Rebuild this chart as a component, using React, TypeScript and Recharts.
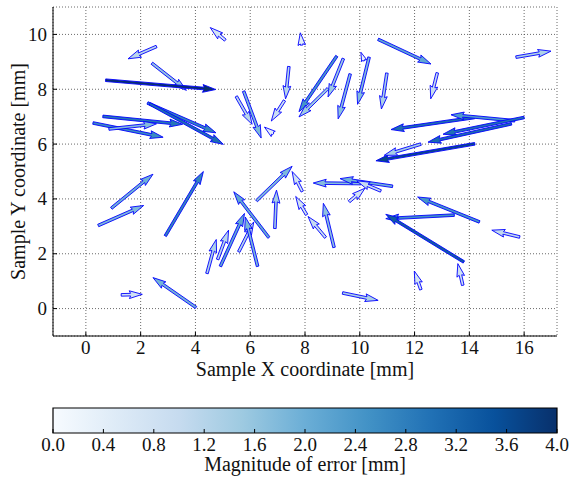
import React from 'react';
import {
  ComposedChart,
  Scatter,
  XAxis,
  YAxis,
  CartesianGrid,
  ReferenceLine,
  ReferenceArea,
  Label
} from 'recharts';

// sample positions (arrow tails) and error vectors, in mm
const X_TAIL = [
  2.58, 2.41, 0.72, 2.25, 2.33, 0.62, 0.26, 0.84, 5.09, 7.88,
  7.41, 7.25, 5.49, 5.76, 6.84, 9.16, 9.40, 8.84, 9.65, 10.16,
  10.34, 10.99, 10.67, 12.83, 15.70, 14.19, 15.66, 16.00, 15.54, 14.20,
  12.23, 0.93, 0.45, 2.90, 4.02, 1.29, 4.42, 4.81, 4.91, 5.58,
  6.27, 6.68, 6.23, 6.90, 7.90, 8.06, 8.75, 9.06, 9.61, 10.04,
  11.20, 10.77, 9.37, 12.23, 13.76, 14.37, 13.45, 13.80, 15.84
];
const Y_TAIL = [
  9.56, 8.95, 8.33, 7.50, 7.47, 7.01, 6.77, 6.55, 9.79, 9.61,
  8.83, 7.59, 7.74, 7.93, 6.37, 9.21, 9.12, 8.03, 8.56, 9.04,
  9.17, 8.59, 9.82, 8.60, 9.17, 6.97, 6.85, 6.97, 6.74, 6.01,
  6.00, 3.66, 3.03, 2.65, 0.04, 0.50, 1.28, 1.79, 1.54, 2.07,
  1.54, 2.59, 3.93, 2.92, 4.27, 3.42, 2.59, 2.23, 3.90, 4.56,
  4.46, 4.29, 0.57, 0.69, 0.85, 3.16, 3.41, 1.70, 2.61
];
const U_ERR = [
  -1.04, 1.26, 4.02, 2.50, 2.69, 2.91, 2.56, 1.74, -0.55, -0.05,
  -0.12, -0.48, 0.58, 0.64, -0.32, -1.38, -0.56, -1.06, -0.44, -0.12,
  -0.42, -0.20, 1.93, -0.24, 1.28, -3.05, -2.33, -2.96, -3.05, -3.61,
  -1.34, 1.52, 1.66, 1.39, -1.57, 0.77, 0.34, 0.40, 0.88, 0.55,
  -0.45, -1.28, 1.30, 0.06, -0.37, -0.40, -0.64, -0.39, 0.58, -1.74,
  -1.92, -0.88, 1.30, -0.24, -0.18, -2.26, -2.50, -2.85, -1.02
];
const V_ERR = [
  -0.45, -0.99, -0.34, -1.09, -1.48, -0.29, -0.52, 0.19, 0.46, 0.45,
  -1.18, -0.75, -1.02, -1.71, 0.25, -2.03, -1.40, -1.04, -1.64, 0.31,
  -1.72, -1.31, -0.90, -0.95, 0.22, -0.44, 0.22, -0.61, -0.67, -0.62,
  -0.41, 1.24, 0.73, 2.35, 1.09, 0.02, 1.24, 1.07, 1.93, 1.09,
  1.80, 1.67, 1.26, 1.40, 0.73, 0.67, 0.77, 1.61, 0.49, 0.02,
  0.28, 0.37, -0.27, 0.68, 0.79, 0.91, -0.13, 1.74, 0.25
];

const X_TICKS = [0, 2, 4, 6, 8, 10, 12, 14, 16];
const Y_TICKS = [0, 2, 4, 6, 8, 10];
const CBAR_TICKS = [0.0, 0.4, 0.8, 1.2, 1.6, 2.0, 2.4, 2.8, 3.2, 3.6, 4.0];
const MAX_ERR = 4.0;

// matplotlib "Blues"
const BLUES = ['#f7fbff', '#deebf7', '#c6dbef', '#9ecae1', '#6baed6', '#4292c6', '#2171b5', '#08519c', '#08306b'];

const FONT = '"Liberation Serif", "DejaVu Serif", serif';
const INK = '#111';
const TICK_FS = 19;
const TITLE_FS = 20;
const SHAFT = 2.6; // px, quiver shaft width

const hexToRgb = (h: string) => [1, 3, 5].map((i) => parseInt(h.slice(i, i + 2), 16));

const blues = (t: number) => {
  const v = Math.max(0, Math.min(1, t)) * (BLUES.length - 1);
  const i = Math.min(Math.floor(v), BLUES.length - 2);
  const f = v - i;
  const a = hexToRgb(BLUES[i]);
  const b = hexToRgb(BLUES[i + 1]);
  const c = a.map((ch, k) => Math.round(ch + (b[k] - ch) * f));
  return `rgb(${c[0]},${c[1]},${c[2]})`;
};

const arrows = X_TAIL.map((x, i) => ({
  x,
  y: Y_TAIL[i],
  u: U_ERR[i],
  v: V_ERR[i],
  mag: Math.hypot(U_ERR[i], V_ERR[i])
}));

// colorbar needs something to hang its axis on
const cbarData = CBAR_TICKS.map((v) => ({ v, level: 0.5 }));

// same polygon as matplotlib's quiver arrow (headwidth 3, headlength 5, headaxislength 4.5)
const arrowPoints = (x1: number, y1: number, x2: number, y2: number) => {
  const dx = x2 - x1;
  const dy = y2 - y1;
  const L = Math.hypot(dx, dy) || 0.001;
  const c = dx / L;
  const s = dy / L;
  const w = SHAFT;
  let pts: number[][];
  if (L >= 5 * w) {
    pts = [
      [0, 0.5 * w], [L - 4.5 * w, 0.5 * w], [L - 5 * w, 1.5 * w], [L, 0],
      [L - 5 * w, -1.5 * w], [L - 4.5 * w, -0.5 * w], [0, -0.5 * w]
    ];
  } else {
    const k = (L / (5 * w)) * w;
    pts = [[0, 0.5], [0.5, 0.5], [0, 1.5], [5, 0], [0, -1.5], [0.5, -0.5], [0, -0.5]]
      .map(([a, b]) => [a * k, b * k]);
  }
  return pts
    .map(([a, b]) => `${(x1 + a * c - b * s).toFixed(2)},${(y1 + a * s + b * c).toFixed(2)}`)
    .join(' ');
};

const makeArrowShape = (fill: string) => (props: any) => {
  const { x1, y1, x2, y2 } = props;
  if ([x1, y1, x2, y2].some((n) => typeof n !== 'number' || isNaN(n))) return <g />;
  return (
    <polygon
      points={arrowPoints(x1, y1, x2, y2)}
      fill={fill}
      stroke="#0000ff"
      strokeWidth={0.9}
      strokeLinejoin="miter"
    />
  );
};

const BottomTick = (props: any) => {
  const { x, y, payload, tickFormatter } = props;
  const txt = tickFormatter ? tickFormatter(payload.value) : payload.value;
  return (
    <g>
      <line x1={x} y1={y} x2={x} y2={y - 4} stroke="#000" strokeWidth={1} />
      <text x={x} y={y + 18} textAnchor="middle" fontSize={TICK_FS} fontFamily={FONT} fill={INK}>
        {txt}
      </text>
    </g>
  );
};

const TopTick = (props: any) => {
  const { x, y } = props;
  return <line x1={x} y1={y} x2={x} y2={y + 4} stroke="#000" strokeWidth={1} />;
};

const LeftTick = (props: any) => {
  const { x, y, payload } = props;
  return (
    <g>
      <line x1={x} y1={y} x2={x + 4} y2={y} stroke="#000" strokeWidth={1} />
      <text x={x - 6} y={y + 6.5} textAnchor="end" fontSize={TICK_FS} fontFamily={FONT} fill={INK}>
        {payload.value}
      </text>
    </g>
  );
};

const RightTick = (props: any) => {
  const { x, y } = props;
  return <line x1={x} y1={y} x2={x - 4} y2={y} stroke="#000" strokeWidth={1} />;
};

const YTitle = (props: any) => {
  const vb = props.viewBox || { x: 8, y: 7, height: 329 };
  const cx = vb.x + 17;
  const cy = vb.y + vb.height / 2;
  return (
    <text
      x={cx}
      y={cy}
      transform={`rotate(-90 ${cx} ${cy})`}
      textAnchor="middle"
      fontSize={TITLE_FS}
      fontFamily={FONT}
      fill={INK}
    >
      Sample Y coordinate [mm]
    </text>
  );
};

export default function App() {
  return (
    <div style={{ position: 'relative', width: 569, height: 480, background: '#fff' }}>
      <style>{'body{margin:0;background:#fff}'}</style>
      <svg width={0} height={0} style={{ position: 'absolute' }}>
        <defs>
          <linearGradient id="bluesGrad" x1="0" y1="0" x2="1" y2="0">
            {BLUES.map((c, i) => (
              <stop key={c} offset={`${(i / (BLUES.length - 1)) * 100}%`} stopColor={c} />
            ))}
          </linearGradient>
        </defs>
      </svg>

      <div style={{ position: 'absolute', left: 0, top: 0 }}>
        <ComposedChart width={569} height={390} margin={{ top: 7, right: 12, bottom: 9, left: 8 }}>
          <CartesianGrid stroke="#444" strokeDasharray="1 2" strokeWidth={0.8} />
          <XAxis
            type="number"
            dataKey="x"
            domain={[-1.2, 17.2]}
            allowDataOverflow
            ticks={X_TICKS}
            interval={0}
            height={45}
            tickSize={0}
            tickMargin={0}
            tick={<BottomTick />}
            axisLine={{ stroke: '#000', strokeWidth: 1 }}
            tickLine={false}
          >
            <Label
              value="Sample X coordinate [mm]"
              position="insideBottom"
              offset={5}
              style={{ fontSize: TITLE_FS, fontFamily: FONT, fill: INK }}
            />
          </XAxis>
          <XAxis
            xAxisId="top"
            orientation="top"
            type="number"
            domain={[-1.2, 17.2]}
            allowDataOverflow
            ticks={X_TICKS}
            interval={0}
            height={0}
            tickSize={0}
            tickMargin={0}
            tick={<TopTick />}
            axisLine={{ stroke: '#000', strokeWidth: 1 }}
            tickLine={false}
          />
          <YAxis
            type="number"
            dataKey="y"
            domain={[-1, 11]}
            allowDataOverflow
            ticks={Y_TICKS}
            interval={0}
            width={45}
            tickSize={0}
            tickMargin={0}
            tick={<LeftTick />}
            axisLine={{ stroke: '#000', strokeWidth: 1 }}
            tickLine={false}
          >
            <Label content={<YTitle />} />
          </YAxis>
          <YAxis
            yAxisId="right"
            orientation="right"
            type="number"
            domain={[-1, 11]}
            allowDataOverflow
            ticks={Y_TICKS}
            interval={0}
            width={0}
            tickSize={0}
            tickMargin={0}
            tick={<RightTick />}
            axisLine={{ stroke: '#000', strokeWidth: 1 }}
            tickLine={false}
          />
          <Scatter data={arrows} dataKey="y" shape={() => <g />} isAnimationActive={false} />
          {arrows.map((a, i) => (
            <ReferenceLine
              key={`arrow-${i}`}
              segment={[
                { x: a.x, y: a.y },
                { x: a.x + a.u, y: a.y + a.v }
              ]}
              ifOverflow="visible"
              shape={makeArrowShape(blues(a.mag / MAX_ERR))}
            />
          ))}
        </ComposedChart>
      </div>

      <div style={{ position: 'absolute', left: 0, top: 400 }}>
        <ComposedChart
          width={569}
          height={80}
          data={cbarData}
          margin={{ top: 8, right: 12, bottom: 7, left: 53 }}
        >
          <XAxis
            type="number"
            dataKey="v"
            domain={[0, MAX_ERR]}
            allowDataOverflow
            ticks={CBAR_TICKS}
            interval={0}
            height={40}
            tickSize={0}
            tickMargin={0}
            tickFormatter={(v: number) => v.toFixed(1)}
            tick={<BottomTick />}
            axisLine={false}
            tickLine={false}
          >
            <Label
              value="Magnitude of error [mm]"
              position="insideBottom"
              offset={2}
              style={{ fontSize: TITLE_FS, fontFamily: FONT, fill: INK }}
            />
          </XAxis>
          <YAxis type="number" dataKey="level" domain={[0, 1]} allowDataOverflow hide />
          <Scatter dataKey="level" shape={() => <g />} isAnimationActive={false} />
          <ReferenceArea
            x1={0}
            x2={MAX_ERR}
            y1={0}
            y2={1}
            ifOverflow="visible"
            fill="url(#bluesGrad)"
            fillOpacity={1}
            stroke="#000"
            strokeWidth={1.2}
          />
        </ComposedChart>
      </div>
    </div>
  );
}
